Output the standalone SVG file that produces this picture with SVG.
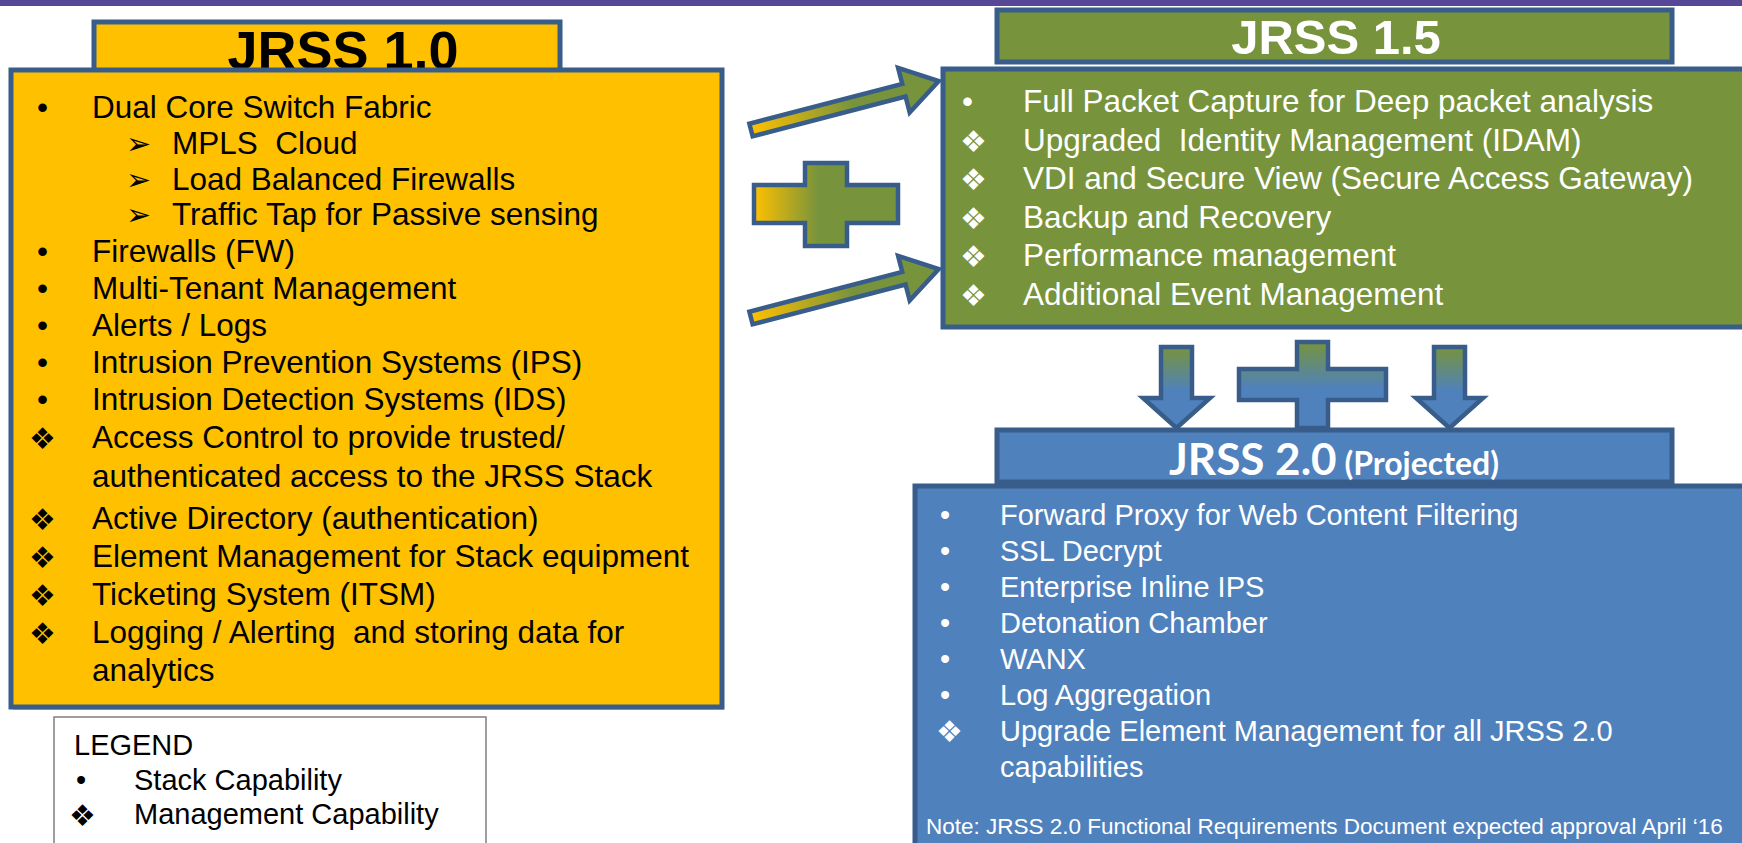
<svg xmlns="http://www.w3.org/2000/svg" width="1742" height="843" viewBox="0 0 1742 843">
<style>
.box{stroke:#385D8A;stroke-width:5}
.y{fill:#FFC000}.g{fill:#77933C}.b{fill:#4F81BD}
.t{font-family:"Liberation Sans",Arial,sans-serif;font-size:31.5px}
.k{fill:#000}.w{fill:#fff}
.d{font-family:"DejaVu Sans",sans-serif;font-size:30px}
.a{font-family:"DejaVu Sans",sans-serif;font-size:30px}
.h{font-family:"Liberation Sans",Arial,sans-serif;font-weight:bold;text-anchor:middle}
.t2{font-family:"Liberation Sans",Arial,sans-serif;font-size:29px;fill:#fff}
.lg{font-family:"Liberation Sans",Arial,sans-serif;font-size:29px;fill:#000}
.con{stroke:#385D8A;stroke-width:4.5;stroke-linejoin:miter}
</style>
<defs>
<linearGradient id="ygArrow" gradientUnits="userSpaceOnUse" x1="0" y1="0" x2="194" y2="0">
<stop offset="0" stop-color="#FFC000"/><stop offset="0.55" stop-color="#77933C"/><stop offset="1" stop-color="#77933C"/>
</linearGradient>
<linearGradient id="ygPlus" x1="0" y1="0" x2="1" y2="0">
<stop offset="0" stop-color="#FFC000"/><stop offset="0.45" stop-color="#77933C"/><stop offset="1" stop-color="#77933C"/>
</linearGradient>
<linearGradient id="gbDown" x1="0" y1="0" x2="0" y2="1">
<stop offset="0" stop-color="#77933C"/><stop offset="0.55" stop-color="#4F81BD"/><stop offset="1" stop-color="#4F81BD"/>
</linearGradient>
</defs>
<rect x="0" y="0" width="1742" height="843" fill="#fff"/>
<rect id="topbar" x="0" y="0" width="1742" height="6" fill="#574797"/>

<g id="jrss10">
<rect class="box y" x="94" y="22" width="466" height="56"/>
<text class="h k" x="343" y="69" font-size="54">JRSS 1.0</text>
<rect x="13" y="73" width="711" height="637" fill="#8a8a8a" opacity="0.5"/>
<rect class="box y" x="11" y="70" width="711" height="637"/>
<g class="t k">
<text x="37" y="118">•</text><text x="92" y="118">Dual Core Switch Fabric</text>
<text x="172" y="154">MPLS&#160; Cloud</text>
<text x="172" y="190">Load Balanced Firewalls</text>
<text x="172" y="225">Traffic Tap for Passive sensing</text>
<text x="37" y="262">•</text><text x="92" y="262">Firewalls (FW)</text>
<text x="37" y="299">•</text><text x="92" y="299">Multi-Tenant Management</text>
<text x="37" y="336">•</text><text x="92" y="336">Alerts / Logs</text>
<text x="37" y="373">•</text><text x="92" y="373">Intrusion Prevention Systems (IPS)</text>
<text x="37" y="410">•</text><text x="92" y="410">Intrusion Detection Systems (IDS)</text>
<text x="92" y="448">Access Control to provide trusted/</text>
<text x="92" y="487">authenticated access to the JRSS Stack</text>
<text x="92" y="529">Active Directory (authentication)</text>
<text x="92" y="567">Element Management for Stack equipment</text>
<text x="92" y="605">Ticketing System (ITSM)</text>
<text x="92" y="643">Logging / Alerting&#160; and storing data for</text>
<text x="92" y="681">analytics</text>
</g>
<g class="a k">
<text x="126" y="154">➢</text><text x="126" y="190">➢</text><text x="126" y="225">➢</text>
</g>
<g class="d k">
<text x="29" y="449">❖</text><text x="29" y="530">❖</text><text x="29" y="568">❖</text><text x="29" y="606">❖</text><text x="29" y="644">❖</text>
</g>
</g>

<g id="jrss15">
<rect class="box g" x="997" y="10" width="675" height="52"/>
<text class="h w" x="1336" y="54" font-size="49">JRSS 1.5</text>
<rect class="box g" x="943" y="69" width="820" height="258"/>
<g class="t w">
<text x="962" y="112">•</text><text x="1023" y="112">Full Packet Capture for Deep packet analysis</text>
<text x="1023" y="151">Upgraded&#160; Identity Management (IDAM)</text>
<text x="1023" y="189">VDI and Secure View (Secure Access Gateway)</text>
<text x="1023" y="228">Backup and Recovery</text>
<text x="1023" y="266">Performance management</text>
<text x="1023" y="305">Additional Event Management</text>
</g>
<g class="d w">
<text x="960" y="152">❖</text><text x="960" y="190">❖</text><text x="960" y="229">❖</text><text x="960" y="267">❖</text><text x="960" y="306">❖</text>
</g>
</g>

<g id="jrss20">
<rect class="box b" x="997" y="430" width="675" height="52"/>
<text x="1334" y="475" text-anchor="middle" font-family="Lato,'Open Sans',sans-serif" font-weight="bold" fill="#fff"><tspan font-size="44">JRSS 2.0</tspan><tspan font-size="32"> (Projected)</tspan></text>
<rect class="box b" x="915" y="486" width="850" height="380"/>
<g class="t2">
<text x="940" y="525">•</text><text x="1000" y="525">Forward Proxy for Web Content Filtering</text>
<text x="940" y="561">•</text><text x="1000" y="561">SSL Decrypt</text>
<text x="940" y="597">•</text><text x="1000" y="597">Enterprise Inline IPS</text>
<text x="940" y="633">•</text><text x="1000" y="633">Detonation Chamber</text>
<text x="940" y="669">•</text><text x="1000" y="669">WANX</text>
<text x="940" y="705">•</text><text x="1000" y="705">Log Aggregation</text>
<text x="1000" y="741">Upgrade Element Management for all JRSS 2.0</text>
<text x="1000" y="777">capabilities</text>
<text x="926" y="834" font-size="22.5">Note: JRSS 2.0 Functional Requirements Document expected approval April ‘16</text>
</g>
<text class="d w" x="936" y="742" font-size="27">❖</text>
</g>

<g id="legend">
<rect x="54" y="717" width="432" height="140" fill="#fff" stroke="#7F7F7F" stroke-width="1.5"/>
<text class="lg" x="74" y="755">LEGEND</text>
<text class="lg" x="76" y="790">•</text><text class="lg" x="134" y="790">Stack Capability</text>
<text class="d k" x="69" y="826" font-size="28">❖</text><text class="lg" x="134" y="824">Management Capability</text>
</g>

<g id="connectors">
<path class="con" fill="url(#ygArrow)" transform="translate(751,130) rotate(-14.6)" d="M0,-6.5 H158 V-23 L194,0 L158,23 V6.5 H0 Z"/>
<path class="con" fill="url(#ygArrow)" transform="translate(751,318) rotate(-14.6)" d="M0,-6.5 H158 V-23 L194,0 L158,23 V6.5 H0 Z"/>
<path class="con" fill="url(#ygPlus)" d="M805,163 H847 V185 H898 V223 H847 V246 H805 V223 H754 V185 H805 Z"/>
<path class="con" fill="url(#gbDown)" d="M1161,347 H1192 V398 H1210 L1176.5,428 L1143,398 H1161 Z"/>
<path class="con" fill="url(#gbDown)" d="M1434,347 H1465 V398 H1483 L1449.5,428 L1416,398 H1434 Z"/>
<path class="con" fill="url(#gbDown)" d="M1297,342 H1328 V369 H1386 V400 H1328 V428 H1297 V400 H1239 V369 H1297 Z"/>
</g>
</svg>
